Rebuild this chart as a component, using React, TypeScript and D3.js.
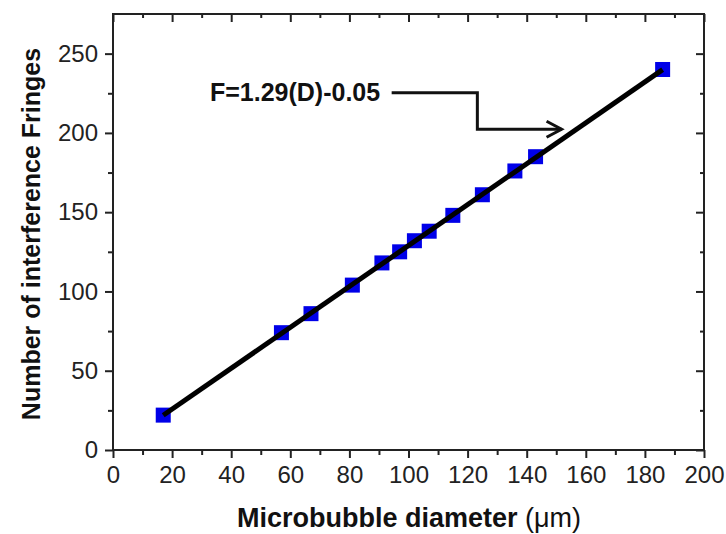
import * as d3 from 'd3';
import React, { useRef, useEffect } from 'react';

// measured points: microbubble diameter (um) vs fringe count
const diameter = [17, 57, 67, 81, 91, 97, 102, 107, 115, 125, 136, 143, 186];
const fringes = [22, 74, 86, 104, 118, 125, 132, 138, 148, 161, 176, 185, 240];

// linear fit shown on the chart
const fitSlope = 1.29;
const fitIntercept = -0.05;
const fitLabel = 'F=1.29(D)-0.05';

const xTicks = [0, 20, 40, 60, 80, 100, 120, 140, 160, 180, 200];
const xMinorTicks = [10, 30, 50, 70, 90, 110, 130, 150, 170, 190];
const yTicks = [0, 50, 100, 150, 200, 250];
const yMinorTicks = [25, 75, 125, 175, 225];

// annotation anchor points (data units)
const labelAt = { d: 32.8, f: 220 };
const arrowPath = [
  { d: 94.3, f: 225.4 },
  { d: 123.3, f: 225.4 },
  { d: 123.3, f: 202.3 },
  { d: 151.8, f: 202.3 },
];

const W = 726;
const H = 534;
const margin = { top: 14, right: 22, bottom: 84, left: 113 };
const FONT = '"Liberation Sans", Arial, sans-serif';
const AXIS_COLOR = '#222';

const App = () => {
  const ref = useRef(null);

  useEffect(() => {
    draw();
  });

  const draw = () => {
    const svg = d3.select(ref.current);
    svg.selectAll('*').remove();

    const x = d3.scaleLinear()
      .domain([0, 200])
      .range([margin.left, W - margin.right]);
    const y = d3.scaleLinear()
      .domain([0, 275])
      .range([H - margin.bottom, margin.top]);

    const styleAxis = (g, labels) => {
      g.select('.domain').remove();
      g.selectAll('line').attr('stroke', AXIS_COLOR).attr('stroke-width', 2);
      g.selectAll('text')
        .style('font-family', FONT)
        .style('font-size', labels ? '24px' : '0px')
        .attr('fill', AXIS_COLOR);
    };

    // bottom axis (outward ticks)
    svg.append('g')
      .attr('transform', 'translate(0,' + y(0) + ')')
      .call(d3.axisBottom(x).tickValues(xTicks).tickSize(8).tickPadding(8))
      .call((g) => styleAxis(g, true));
    svg.append('g')
      .attr('transform', 'translate(0,' + y(0) + ')')
      .call(d3.axisBottom(x).tickValues(xMinorTicks).tickSize(5).tickFormat(() => ''))
      .call((g) => styleAxis(g, false));

    // top axis (inward ticks)
    svg.append('g')
      .attr('transform', 'translate(0,' + y(275) + ')')
      .call(d3.axisTop(x).tickValues(xTicks).tickSize(-8).tickFormat(() => ''))
      .call((g) => styleAxis(g, false));
    svg.append('g')
      .attr('transform', 'translate(0,' + y(275) + ')')
      .call(d3.axisTop(x).tickValues(xMinorTicks).tickSize(-4).tickFormat(() => ''))
      .call((g) => styleAxis(g, false));

    // left axis (outward ticks)
    svg.append('g')
      .attr('transform', 'translate(' + x(0) + ',0)')
      .call(d3.axisLeft(y).tickValues(yTicks).tickSize(8).tickPadding(7))
      .call((g) => styleAxis(g, true));
    svg.append('g')
      .attr('transform', 'translate(' + x(0) + ',0)')
      .call(d3.axisLeft(y).tickValues(yMinorTicks).tickSize(5).tickFormat(() => ''))
      .call((g) => styleAxis(g, false));

    // right axis (inward ticks)
    svg.append('g')
      .attr('transform', 'translate(' + x(200) + ',0)')
      .call(d3.axisRight(y).tickValues(yTicks).tickSize(-8).tickFormat(() => ''))
      .call((g) => styleAxis(g, false));
    svg.append('g')
      .attr('transform', 'translate(' + x(200) + ',0)')
      .call(d3.axisRight(y).tickValues(yMinorTicks).tickSize(-4).tickFormat(() => ''))
      .call((g) => styleAxis(g, false));

    // frame
    svg.append('rect')
      .attr('x', x(0))
      .attr('y', y(275))
      .attr('width', x(200) - x(0))
      .attr('height', y(0) - y(275))
      .attr('fill', 'none')
      .attr('stroke', AXIS_COLOR)
      .attr('stroke-width', 2);

    // markers
    const pts = diameter.map((d, i) => ({ d, f: fringes[i] }));
    const sz = 15;
    svg.append('g')
      .selectAll('rect')
      .data(pts)
      .join('rect')
      .attr('x', (p) => x(p.d) - sz / 2)
      .attr('y', (p) => y(p.f) - sz / 2)
      .attr('width', sz)
      .attr('height', sz)
      .attr('fill', '#0000e8');

    // fit line
    const d0 = d3.min(diameter);
    const d1 = d3.max(diameter);
    svg.append('path')
      .datum([d0, d1])
      .attr('fill', 'none')
      .attr('stroke', '#000')
      .attr('stroke-width', 5)
      .attr('d', d3.line()
        .x((d) => x(d))
        .y((d) => y(fitSlope * d + fitIntercept))
      );

    // annotation
    svg.append('text')
      .attr('x', x(labelAt.d))
      .attr('y', y(labelAt.f))
      .style('font-family', FONT)
      .style('font-size', '25px')
      .style('font-weight', 'bold')
      .attr('fill', '#111')
      .text(fitLabel);

    svg.append('path')
      .datum(arrowPath)
      .attr('fill', 'none')
      .attr('stroke', '#111')
      .attr('stroke-width', 3)
      .attr('d', d3.line().x((p) => x(p.d)).y((p) => y(p.f)));

    const tip = arrowPath[arrowPath.length - 1];
    const tx = x(tip.d);
    const ty = y(tip.f);
    svg.append('path')
      .attr('fill', 'none')
      .attr('stroke', '#111')
      .attr('stroke-width', 3)
      .attr('stroke-linejoin', 'miter')
      .attr('d', d3.line()([[tx - 15, ty - 8], [tx, ty], [tx - 15, ty + 8]]));

    // axis titles
    const xt = svg.append('text')
      .attr('x', 409)
      .attr('y', 527)
      .attr('text-anchor', 'middle')
      .style('font-family', FONT)
      .style('font-size', '27px')
      .attr('fill', '#111');
    xt.append('tspan').style('font-weight', 'bold').text('Microbubble diameter ');
    xt.append('tspan').style('font-weight', 'normal').text('(\u03bcm)');

    svg.append('text')
      .attr('transform', 'translate(40,' + 234 + ') rotate(-90)')
      .attr('text-anchor', 'middle')
      .style('font-family', FONT)
      .style('font-size', '25px')
      .style('font-weight', 'bold')
      .attr('fill', '#111')
      .text('Number of interference Fringes');
  };

  return (
    <svg
      ref={ref}
      width={W}
      height={H}
      style={{ position: 'absolute', left: 0, top: 0, background: '#fff' }}
    ></svg>
  );
};

export default App;
